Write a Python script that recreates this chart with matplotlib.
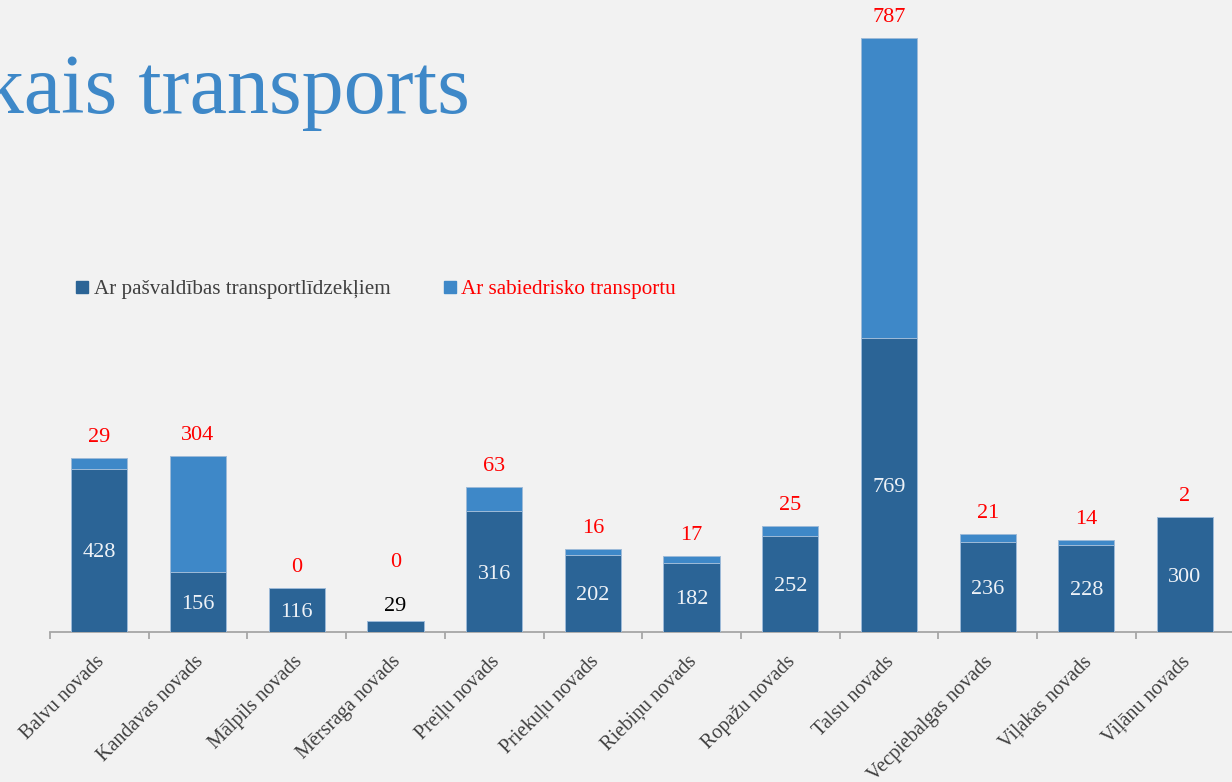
import matplotlib
matplotlib.use("Agg")
import matplotlib.pyplot as plt
from matplotlib.lines import Line2D
from matplotlib.transforms import ScaledTranslation
import numpy as np

categories = ["Balvu novads", "Kandavas novads", "Mālpils novads", "Mērsraga novads",
              "Preiļu novads", "Priekuļu novads", "Riebiņu novads", "Ropažu novads",
              "Talsu novads", "Vecpiebalgas novads", "Viļakas novads", "Viļānu novads"]
own_transport = [428, 156, 116, 29, 316, 202, 182, 252, 769, 236, 228, 300]
public_transport = [29, 304, 0, 0, 63, 16, 17, 25, 787, 21, 14, 2]
series_names = ["Ar pašvaldības transportlīdzekļiem", "Ar sabiedrisko transportu"]
title_text = "Sabiedriskais transports"

DARK = "#2B6496"
LIGHT = "#3E88C8"
BG = "#F2F2F2"
FONT = "Liberation Serif"

plt.rcParams['font.family'] = [FONT, 'DejaVu Serif']

W, H = 1232, 782
fig = plt.figure(figsize=(W / 100, H / 100), dpi=100, facecolor=BG)

ax_left, ax_right = 50, 1234.4
ax_bottom, ax_top = 632, 38
ax = fig.add_axes([ax_left / W, (H - ax_bottom) / H, (ax_right - ax_left) / W, (ax_bottom - ax_top) / H])
ax.set_facecolor(BG)

x = np.arange(len(categories))
own = np.array(own_transport)
pub = np.array(public_transport)
width = 0.57
ax.bar(x, own, width, color=DARK, edgecolor="#9DBAD8", linewidth=0.7, zorder=3)
ax.bar(x, pub, width, bottom=own, color=LIGHT, edgecolor="#9DBAD8", linewidth=0.7, zorder=3)

ax.set_xlim(-0.5, len(categories) - 0.5)
ax.set_ylim(0, (own + pub).max())

for s in ["top", "right", "left"]:
    ax.spines[s].set_visible(False)
ax.spines["bottom"].set_color("#A6A6A6")
ax.spines["bottom"].set_linewidth(1.3)
ax.set_yticks([])

ax.set_xticks(x)
ax.set_xticklabels(categories, rotation=45, ha="right", rotation_mode="anchor",
                   fontsize=14.5, color="#404040", family=FONT)
ax.tick_params(axis="x", which="major", length=0, pad=16)
shift = ScaledTranslation(-4 / 100, 2 / 100, fig.dpi_scale_trans)
for lab in ax.get_xticklabels():
    lab.set_transform(lab.get_transform() + shift)
ax.set_xticks(np.arange(len(categories)) - 0.5, minor=True)
ax.tick_params(axis="x", which="minor", length=5, color="#A6A6A6", width=1.3)

pt = 72 / 100  # points per pixel
small_threshold = 40
for xi, o, p in zip(x, own, pub):
    top = o + p
    if o >= small_threshold:
        ax.text(xi, o / 2, str(o), ha="center", va="center_baseline", color="#EEF2F7",
                fontsize=16, family=FONT, zorder=4)
        ax.annotate(str(p), (xi, top), xytext=(0, 23 * pt), textcoords="offset points",
                    ha="center", va="center_baseline", color="red", fontsize=16, family=FONT)
    else:
        ax.annotate(str(o), (xi, top), xytext=(0, 17 * pt), textcoords="offset points",
                    ha="center", va="center_baseline", color="black", fontsize=16, family=FONT)
        ax.annotate(str(p), (xi, top), xytext=(0, 61 * pt), textcoords="offset points",
                    ha="center", va="center_baseline", color="red", fontsize=16, family=FONT)

handles = [Line2D([], [], marker="s", linestyle="none", markersize=8.5, color=DARK),
           Line2D([], [], marker="s", linestyle="none", markersize=8.5, color=LIGHT)]
leg = fig.legend(handles, series_names, loc="center left", bbox_to_anchor=(76 / W, (H - 289) / H),
                 ncol=2, frameon=False, handlelength=0.6, handletextpad=0.25,
                 columnspacing=2.5, borderpad=0, borderaxespad=0, prop={"family": FONT, "size": 15.2})
leg.get_texts()[0].set_color("#404040")
leg.get_texts()[1].set_color("red")

fig.text(470 / W, (H - 113) / H, title_text, ha="right", va="baseline", color=LIGHT,
         fontsize=60.5, family=FONT)

fig.savefig("out.png", dpi=100, facecolor=BG)
